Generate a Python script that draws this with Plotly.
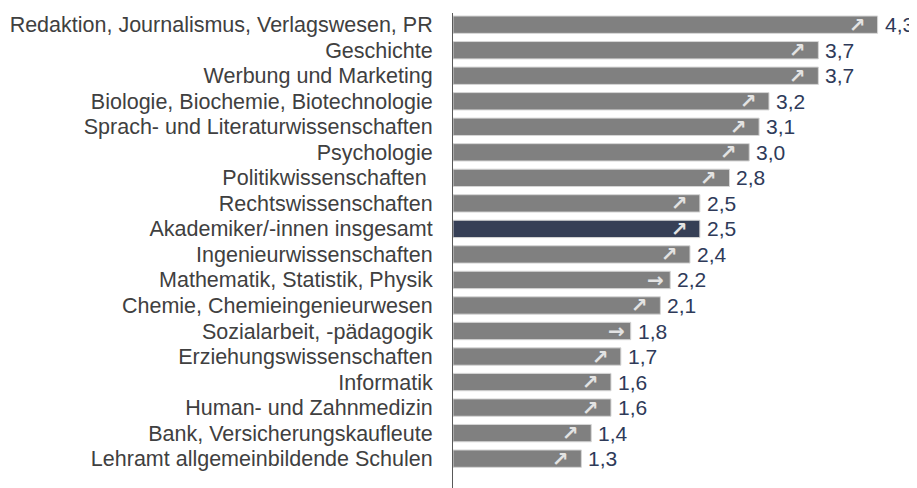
import plotly.graph_objects as go

categories = [
    "Redaktion, Journalismus, Verlagswesen, PR",
    "Geschichte",
    "Werbung und Marketing",
    "Biologie, Biochemie, Biotechnologie",
    "Sprach- und Literaturwissenschaften",
    "Psychologie",
    "Politikwissenschaften\u00a0",
    "Rechtswissenschaften",
    "Akademiker/-innen insgesamt",
    "Ingenieurwissenschaften",
    "Mathematik, Statistik, Physik",
    "Chemie, Chemieingenieurwesen",
    "Sozialarbeit, -pädagogik",
    "Erziehungswissenschaften",
    "Informatik",
    "Human- und Zahnmedizin",
    "Bank, Versicherungskaufleute",
    "Lehramt allgemeinbildende Schulen",
]
values = [4.3, 3.7, 3.7, 3.2, 3.1, 3.0, 2.8, 2.5, 2.5, 2.4, 2.2, 2.1, 1.8, 1.7, 1.6, 1.6, 1.4, 1.3]
trends = ["↗", "↗", "↗", "↗", "↗", "↗", "↗", "↗", "↗", "↗", "→", "↗", "→", "↗", "↗", "↗", "↗", "↗"]
highlight = "Akademiker/-innen insgesamt"

GREY = "#808080"
NAVY = "#363f56"
bar_colors = [NAVY if c == highlight else GREY for c in categories]

fig = go.Figure()
fig.add_trace(go.Bar(
    y=categories, x=values, orientation="h",
    marker=dict(color=bar_colors, line=dict(color="#d6d6d6", width=1)),
    hoverinfo="skip",
))

arrow_shift = {"↗": -10, "→": -4}
for c, v, t in zip(categories, values, trends):
    fig.add_annotation(
        x=v, y=c, text=f"<b>{t}</b>", showarrow=False,
        xanchor="right", yanchor="middle", xshift=arrow_shift[t], yshift=0,
        font=dict(family="DejaVu Sans", size=20, color="#e3e3e3"),
    )
    fig.add_annotation(
        x=v, y=c, text=f"{v:.1f}".replace(".", ","), showarrow=False,
        xanchor="left", yanchor="middle", xshift=5,
        font=dict(family="Liberation Sans, Arial", size=21, color="#2e3a59"),
    )

fig.update_layout(
    width=909, height=480,
    margin=dict(l=445, r=7, t=5, b=0),
    paper_bgcolor="white", plot_bgcolor="white",
    showlegend=False, bargap=0.32,
    font=dict(family="Liberation Sans, Arial", size=21.5, color="#404040"),
)
fig.update_xaxes(range=[0, 4.628], visible=False, fixedrange=True)
fig.update_yaxes(
    range=[18.15, -0.458], type="category",
    tickmode="array", tickvals=categories, ticktext=categories,
    showline=True, linecolor="#595959", linewidth=1,
    showgrid=False, zeroline=False,
    ticks="outside", ticklen=15, tickcolor="rgba(0,0,0,0)",
    tickfont=dict(family="Liberation Sans, Arial", size=21.5, color="#404040"),
    fixedrange=True,
)
fig.write_html("out.html")
